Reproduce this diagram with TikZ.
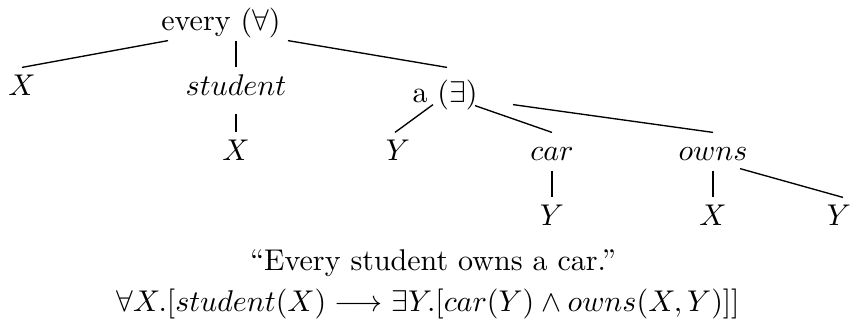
\documentclass[tikz,border=0pt]{standalone}
\usepackage{amsmath,amssymb}
\usepackage{tikz}
\usetikzlibrary{calc}

\begin{document}
\begin{tikzpicture}[
    x=0.3333pt, y=-0.3333pt,
    lbl/.style={anchor=base, inner xsep=0pt, inner ysep=1.5pt,
                text height=7.5pt, text depth=2.5pt},
    branch/.style={line width=0.45pt},
  ]
    \useasboundingbox (0,0) rectangle (852,325);

    % the tree
    \node[lbl] (EVERY) at (221,30) {every ($\forall$)};
    \node[lbl] (XA) at (22,95) {$X$};
    \node[lbl] (STUDENT) at (236,95) {$student$};
    \node[lbl] (XB) at (236,160) {$X$};
    \node[lbl] (EXISTS) at (445,102) {a ($\exists$)};
    \node[lbl] (YA) at (398,160) {$Y$};
    \node[lbl] (CAR) at (552,160) {$car$};
    \node[lbl] (OWNS) at (713,160) {$owns$};
    \node[lbl] (YB) at (552,225) {$Y$};
    \node[lbl] (XC) at (713,225) {$X$};
    \node[lbl] (YC) at (839,225) {$Y$};

    \draw[branch] ($(EVERY.south)+(-53,-2)$) -- (XA.north);
    \draw[branch] ($(EVERY.south)+(15,-2)$) -- (STUDENT.north);
    \draw[branch] ($(EVERY.south)+(67,-2)$) -- ($(EXISTS.north)+(2,-7)$);
    \draw[branch] ($(STUDENT.south)+(0,6)$) -- (XB.north);
    \draw[branch] ($(EXISTS.south)+(-12,-10)$) -- ($(YA.north)+(-3,0)$);
    \draw[branch] ($(EXISTS.south)+(30,-9)$) -- (CAR.north);
    \draw[branch] ($(EXISTS.south)+(68,-10)$) -- (OWNS.north);
    \draw[branch] ($(CAR.south)+(0,-2)$) -- (YB.north);
    \draw[branch] ($(OWNS.south)+(0,-2)$) -- (XC.north);
    \draw[branch] ($(OWNS.south)+(27,-4)$) -- ($(YC.north)+(4,0)$);

    % sentence and its reading
    \node[lbl] (SENT) at (433,270) {``Every student owns a car.''};
    \node[lbl] (FORM) at (428,311)
         {$\forall X.[student(X) \longrightarrow \exists Y.[car(Y) \wedge owns(X,Y)]]$};
  \end{tikzpicture}
\end{document}
